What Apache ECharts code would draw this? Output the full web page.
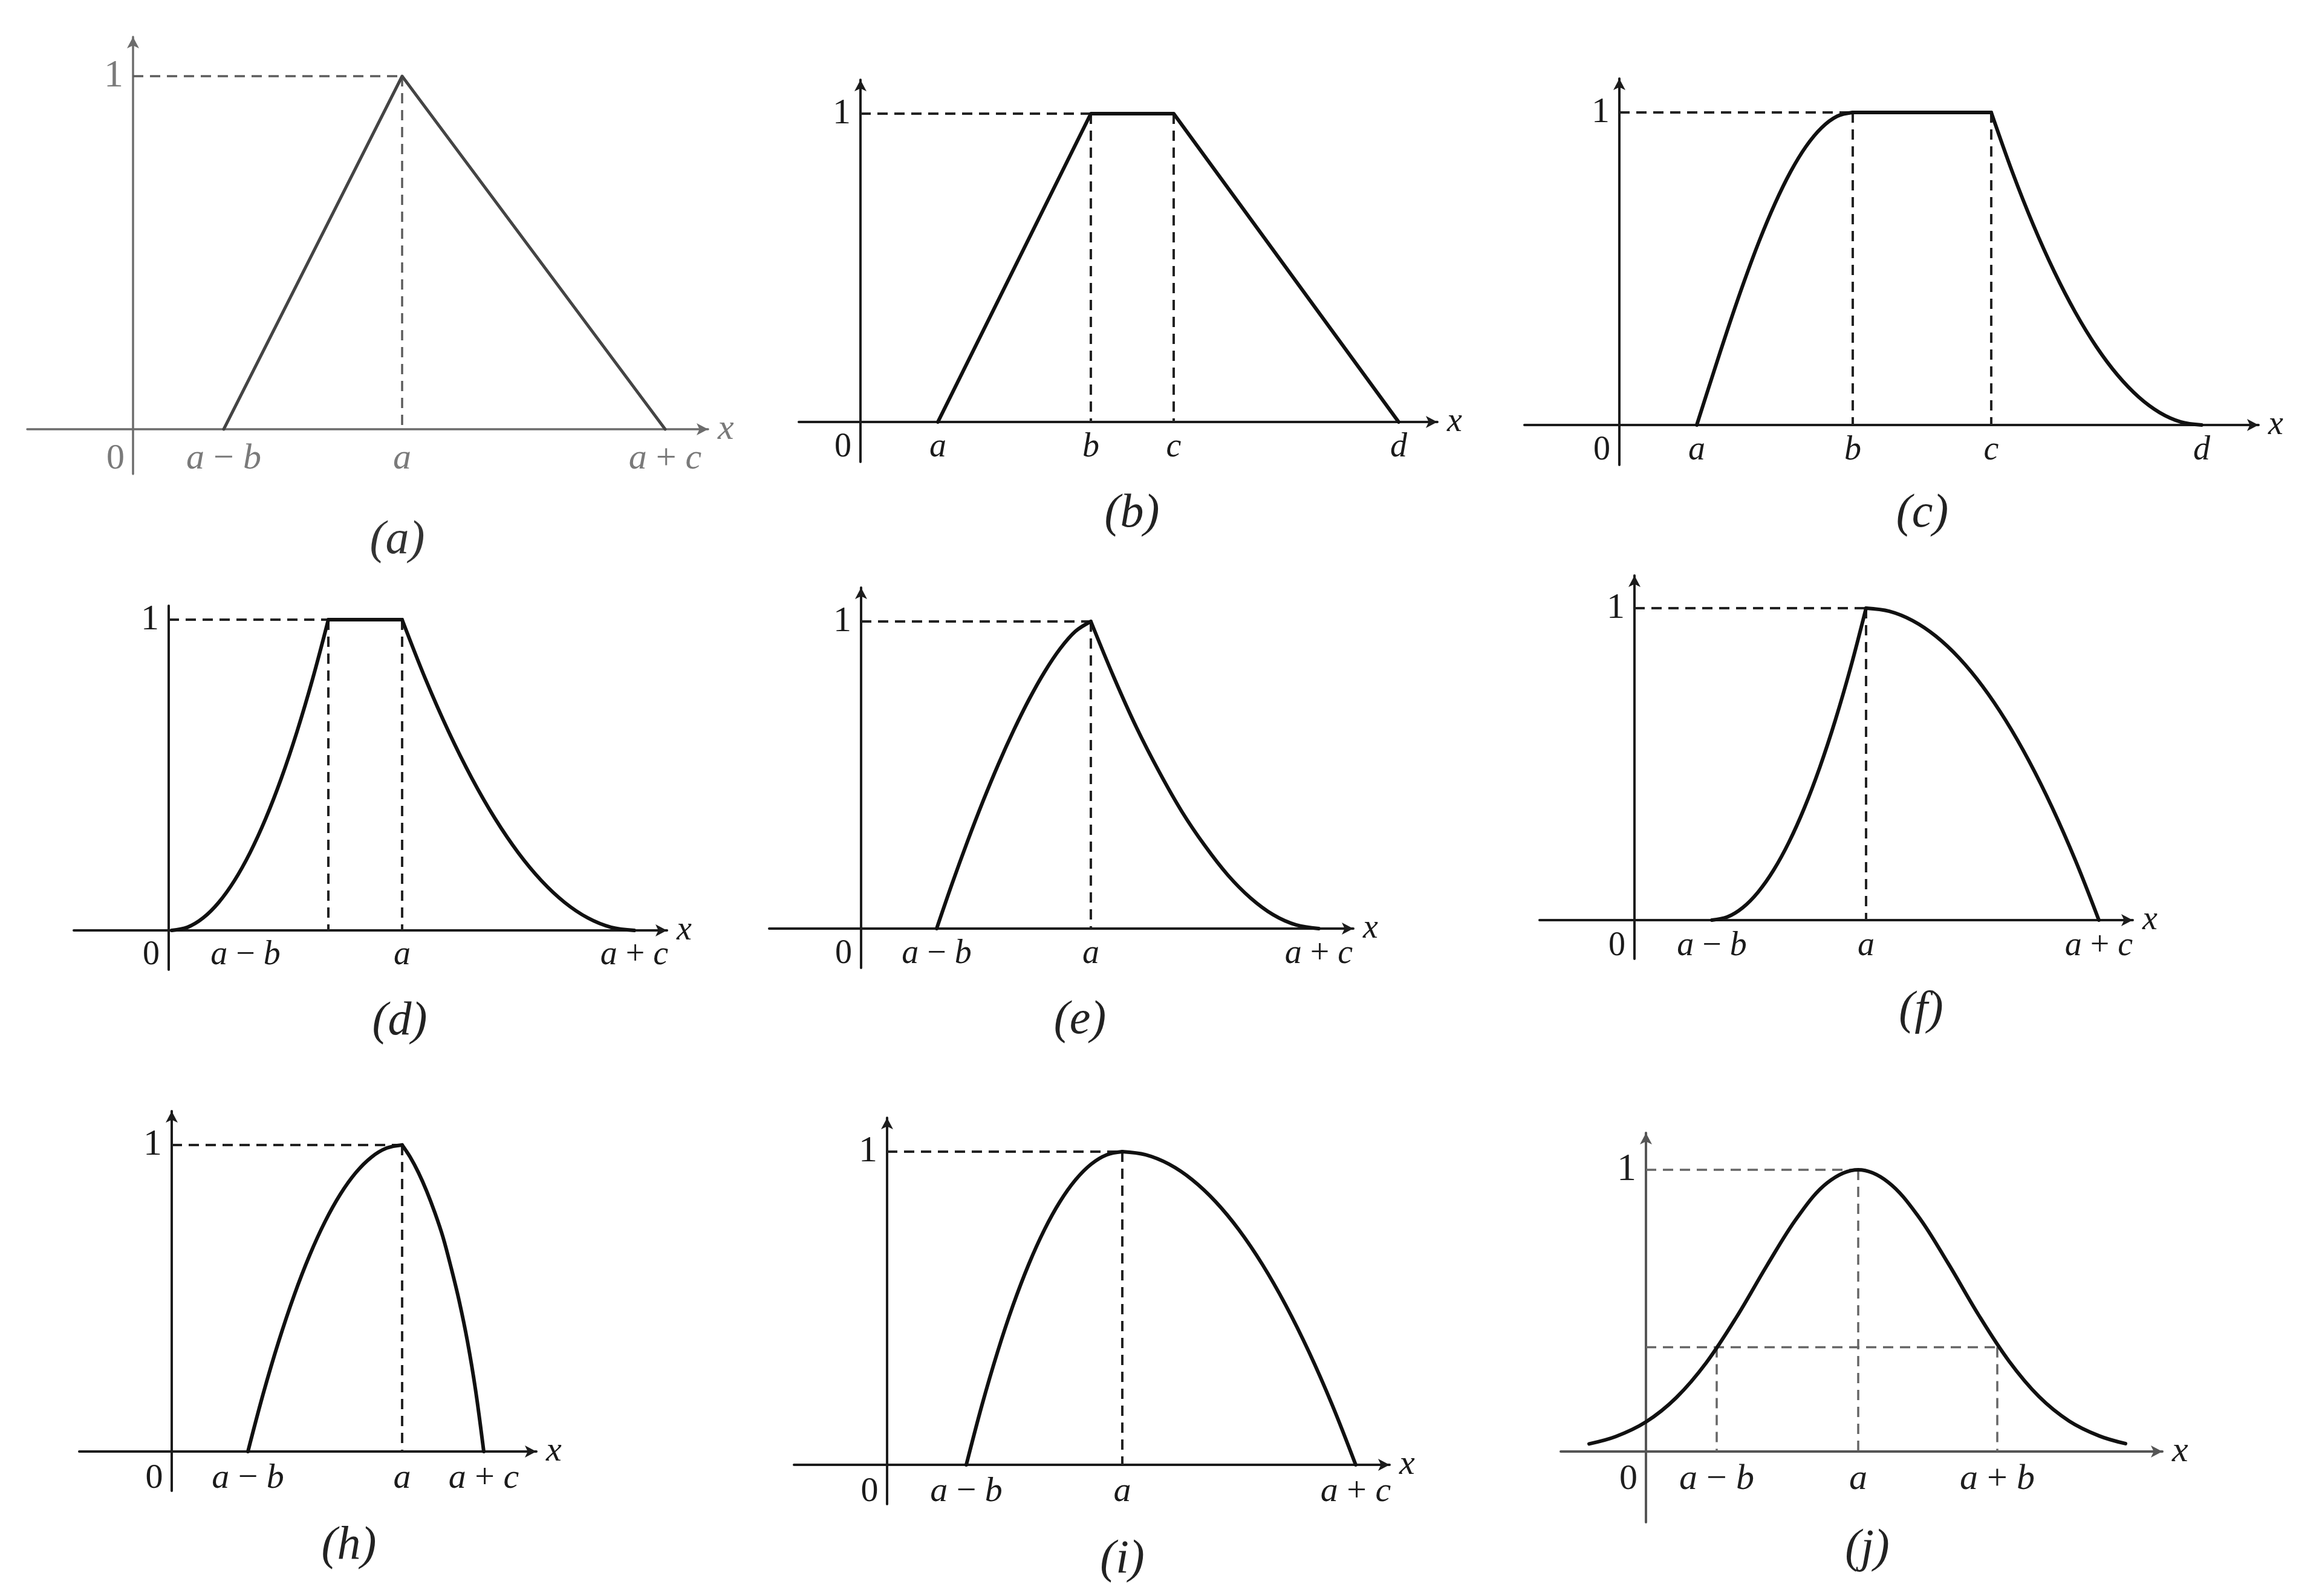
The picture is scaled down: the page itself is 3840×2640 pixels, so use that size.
<!DOCTYPE html>
<html><head><meta charset="utf-8">
<script src="https://cdn.jsdelivr.net/npm/echarts@6/dist/echarts.min.js"></script>
<style>html,body{margin:0;padding:0;background:#fff}#c{width:3840px;height:2640px}</style>
</head><body><div id="c"></div>
<script>
// ---------------- DATA (abstract x units, membership 0..1) ----------------
const ticksA = [0, 1.5, 4.45, 8.8];
const labelsA = ['0', 'a − b', 'a', 'a + c'];
const curveA = [[1.5, 0], [4.45, 1], [8.8, 0]];
const guidesA = [[[0, 1], [4.45, 1]], [[4.45, 1], [4.45, 0]]];

const ticksB = [0, 1.28, 3.81, 5.18, 8.9];
const labelsB = ['0', 'a', 'b', 'c', 'd'];
const curveB = [[1.28, 0], [3.81, 1], [5.18, 1], [8.9, 0]];
const guidesB = [[[0, 1], [3.81, 1]], [[3.81, 1], [3.81, 0]], [[5.18, 1], [5.18, 0]]];

const ticksC = [0, 1.28, 3.86, 6.15, 9.63];
const labelsC = ['0', 'a', 'b', 'c', 'd'];
const riseC = [[1.28, 0], [1.538, 0.156], [1.796, 0.309], [2.054, 0.454], [2.312, 0.588], [2.57, 0.707], [2.828, 0.809], [3.086, 0.891], [3.344, 0.951], [3.602, 0.988], [3.86, 1]];
const flatC = [[3.86, 1], [6.15, 1]];
const fallC = [[6.15, 1], [6.498, 0.81], [6.846, 0.64], [7.194, 0.49], [7.542, 0.36], [7.89, 0.25], [8.238, 0.16], [8.586, 0.09], [8.934, 0.04], [9.282, 0.01], [9.63, 0]];
const guidesC = [[[0, 1], [3.86, 1]], [[3.86, 1], [3.86, 0]], [[6.15, 1], [6.15, 0]]];

const ticksD = [0, 1.27, 3.86, 7.7];
const labelsD = ['0', 'a − b', 'a', 'a + c'];
const riseD = [[0.05, 0], [0.309, 0.01], [0.568, 0.04], [0.827, 0.09], [1.086, 0.16], [1.345, 0.25], [1.604, 0.36], [1.863, 0.49], [2.122, 0.64], [2.381, 0.81], [2.64, 1]];
const flatD = [[2.64, 1], [3.86, 1]];
const fallD = [[3.86, 1], [4.244, 0.81], [4.628, 0.64], [5.012, 0.49], [5.396, 0.36], [5.78, 0.25], [6.164, 0.16], [6.548, 0.09], [6.932, 0.04], [7.316, 0.01], [7.7, 0]];
const guidesD = [[[0, 1], [2.64, 1]], [[2.64, 1], [2.64, 0]], [[3.86, 1], [3.86, 0]]];

const ticksE = [0, 1.25, 3.8, 7.57];
const labelsE = ['0', 'a − b', 'a', 'a + c'];
const riseE = [[1.25, 0], [1.505, 0.146], [1.76, 0.284], [2.015, 0.414], [2.27, 0.535], [2.525, 0.646], [2.78, 0.747], [3.035, 0.836], [3.29, 0.911], [3.545, 0.968], [3.8, 1]];
const fallE = [[3.8, 1], [4.177, 0.82], [4.554, 0.655], [4.931, 0.51], [5.308, 0.38], [5.685, 0.27], [6.062, 0.175], [6.439, 0.1], [6.816, 0.045], [7.193, 0.012], [7.57, 0]];
const guidesE = [[[0, 1], [3.8, 1]], [[3.8, 1], [3.8, 0]]];

const ticksF = [0, 1.28, 3.83, 7.68];
const labelsF = ['0', 'a − b', 'a', 'a + c'];
const riseF = [[1.28, 0], [1.535, 0.01], [1.79, 0.04], [2.045, 0.09], [2.3, 0.16], [2.555, 0.25], [2.81, 0.36], [3.065, 0.49], [3.32, 0.64], [3.575, 0.81], [3.83, 1]];
const fallF = [[3.83, 1], [4.215, 0.99], [4.6, 0.96], [4.985, 0.91], [5.37, 0.84], [5.755, 0.75], [6.14, 0.64], [6.525, 0.51], [6.91, 0.36], [7.295, 0.19], [7.68, 0]];
const guidesF = [[[0, 1], [3.83, 1]], [[3.83, 1], [3.83, 0]]];

const ticksH = [0, 1.26, 3.81, 5.16];
const labelsH = ['0', 'a − b', 'a', 'a + c'];
const riseH = [[1.26, 0], [1.515, 0.19], [1.77, 0.36], [2.025, 0.51], [2.28, 0.64], [2.535, 0.75], [2.79, 0.84], [3.045, 0.91], [3.3, 0.96], [3.555, 0.99], [3.81, 1]];
const fallH = [[3.81, 1], [3.945, 0.96], [4.08, 0.91], [4.215, 0.85], [4.35, 0.78], [4.485, 0.70], [4.62, 0.60], [4.755, 0.49], [4.89, 0.36], [5.025, 0.20], [5.16, 0]];
const guidesH = [[[0, 1], [3.81, 1]], [[3.81, 1], [3.81, 0]]];

const ticksI = [0, 1.31, 3.89, 7.75];
const labelsI = ['0', 'a − b', 'a', 'a + c'];
const riseI = [[1.31, 0], [1.568, 0.19], [1.826, 0.36], [2.084, 0.51], [2.342, 0.64], [2.6, 0.75], [2.858, 0.84], [3.116, 0.91], [3.374, 0.96], [3.632, 0.99], [3.89, 1]];
const fallI = [[3.89, 1], [4.276, 0.99], [4.662, 0.96], [5.048, 0.91], [5.434, 0.84], [5.82, 0.75], [6.206, 0.64], [6.592, 0.51], [6.978, 0.36], [7.364, 0.19], [7.75, 0]];
const guidesI = [[[0, 1], [3.89, 1]], [[3.89, 1], [3.89, 0]]];

const ticksJ = [0, 1.17, 3.51, 5.81];
const labelsJ = ['0', 'a − b', 'a', 'a + b'];
const curveJ = [[-0.94, 0.027], [-0.5, 0.053], [0, 0.105], [0.5, 0.191], [1.0, 0.316], [1.5, 0.478], [2.0, 0.66], [2.5, 0.83], [3.0, 0.954], [3.51, 1], [4.0, 0.957], [4.5, 0.836], [5.0, 0.667], [5.5, 0.485], [6.0, 0.322], [6.5, 0.195], [7.0, 0.108], [7.5, 0.055], [7.93, 0.028]];
const guidesJ = [[[0, 1], [3.51, 1]], [[0, 0.37], [5.81, 0.37]], [[1.17, 0.37], [1.17, 0]], [[3.51, 1], [3.51, 0]], [[5.81, 0.37], [5.81, 0]]];

const yTickValues = [1];
const yTickLabels = ['1'];

// ---------------- PANELS (composition) ----------------
const panels = [
  {id: 'a', caption: '(a)', ticks: ticksA, labels: labelsA, pieces: [[curveA, false]], guides: guidesA},
  {id: 'b', caption: '(b)', ticks: ticksB, labels: labelsB, pieces: [[curveB, false]], guides: guidesB},
  {id: 'c', caption: '(c)', ticks: ticksC, labels: labelsC, pieces: [[riseC, true], [flatC, false], [fallC, true]], guides: guidesC},
  {id: 'd', caption: '(d)', ticks: ticksD, labels: labelsD, pieces: [[riseD, true], [flatD, false], [fallD, true]], guides: guidesD},
  {id: 'e', caption: '(e)', ticks: ticksE, labels: labelsE, pieces: [[riseE, true], [fallE, true]], guides: guidesE},
  {id: 'f', caption: '(f)', ticks: ticksF, labels: labelsF, pieces: [[riseF, true], [fallF, true]], guides: guidesF},
  {id: 'h', caption: '(h)', ticks: ticksH, labels: labelsH, pieces: [[riseH, true], [fallH, true]], guides: guidesH},
  {id: 'i', caption: '(i)', ticks: ticksI, labels: labelsI, pieces: [[riseI, true], [fallI, true]], guides: guidesI},
  {id: 'j', caption: '(j)', ticks: ticksJ, labels: labelsJ, pieces: [[curveJ, true]], guides: guidesJ}
];

// ---------------- LAYOUT & STYLE ----------------
const layout = {
  a: {ox: 220, oy: 710, y1: 126, tailL: 45, tipR: 1180, tipT: 52, tailB: 784, cap: [657, 894], font: 60, dy: 49, yArrow: true},
  b: {ox: 1423, oy: 698, y1: 188, tailL: 1321, tipR: 2386, tipT: 123, tailB: 764, cap: [1872, 850], font: 56, dy: 42, yArrow: true},
  c: {ox: 2678, oy: 703, y1: 186, tailL: 2521, tipR: 3744, tipT: 121, tailB: 769, cap: [3179, 850], font: 56, dy: 42, yArrow: true},
  d: {ox: 279, oy: 1539, y1: 1025, tailL: 122, tipR: 1112, tipT: 1002, tailB: 1604, cap: [661, 1690], font: 56, dy: 41, yArrow: false},
  e: {ox: 1424, oy: 1536, y1: 1028, tailL: 1272, tipR: 2247, tipT: 963, tailB: 1601, cap: [1786, 1688], font: 56, dy: 42, yArrow: true},
  f: {ox: 2703, oy: 1522, y1: 1006, tailL: 2546, tipR: 3536, tipT: 943, tailB: 1586, cap: [3177, 1672], font: 56, dy: 43, yArrow: true},
  h: {ox: 284, oy: 2401, y1: 1894, tailL: 131, tipR: 896, tipT: 1829, tailB: 2466, cap: [577, 2558], font: 58, dy: 45, yArrow: true},
  i: {ox: 1467, oy: 2423, y1: 1905, tailL: 1313, tipR: 2307, tipT: 1840, tailB: 2488, cap: [1856, 2580], font: 58, dy: 45, yArrow: true},
  j: {ox: 2722, oy: 2401, y1: 1935, tailL: 2581, tipR: 3585, tipT: 1865, tailB: 2518, cap: [3088, 2562], font: 60, dy: 46, yArrow: true}
};
const palette = {
  a: {axis: '#6c6c6c', text: '#7a7a7a', curve: '#444444', guide: '#5c5c5c', aw: 3.5, cw: 5, gw: 3.5, cap: '#333333'},
  j: {axis: '#555555', text: '#1e1e1e', curve: '#111111', guide: '#666666', aw: 4, cw: 6, gw: 3.5, cap: '#222222'},
  def: {axis: '#1c1c1c', text: '#1a1a1a', curve: '#111111', guide: '#222222', aw: 4, cw: 6, gw: 4, cap: '#222222'}
};
const SERIF = '"Liberation Serif", "DejaVu Serif", serif';
const SX = 100, ARW = 9;

function labelFormatter(ticks, labels) {
  return function (v) {
    const k = ticks.findIndex(t => Math.abs(t - v) < 1e-6);
    if (k < 0) return '';
    const s = labels[k];
    if (s === '0') return '{z|0}';
    return s.split(' ').map(tok => /[a-z]/.test(tok) ? '{i|' + tok + '}' : '{r|' + tok + '}').join(' ');
  };
}

const grids = [], xAxes = [], yAxes = [], series = [], graphics = [];
panels.forEach((p, idx) => {
  const L = layout[p.id];
  const st = palette[p.id] || palette.def;
  const sy = L.oy - L.y1;
  const yTop = L.yArrow ? L.tipT + ARW : L.tipT;
  const xEnd = L.tipR - ARW;
  grids.push({left: L.tailL, top: yTop, width: xEnd - L.tailL, height: L.tailB - yTop, outerBoundsMode: 'none', containLabel: false});
  const richBase = {fontFamily: SERIF, fontSize: L.font, color: st.text};
  xAxes.push({
    type: 'value', gridIndex: idx,
    min: (L.tailL - L.ox) / SX, max: (xEnd - L.ox) / SX,
    splitLine: {show: false}, axisTick: {show: false},
    axisLine: {onZero: true, symbol: ['none', 'arrow'], symbolSize: [15, 19], lineStyle: {color: st.axis, width: st.aw}},
    axisLabel: {
      customValues: p.ticks, formatter: labelFormatter(p.ticks, p.labels),
      // labels are anchored at the grid's bottom edge; pull them up to sit under the zero line
      margin: (L.oy + L.dy - L.font / 2) - L.tailB,
      color: st.text, fontFamily: SERIF, fontSize: L.font,
      rich: {
        i: Object.assign({fontStyle: 'italic'}, richBase),
        r: Object.assign({fontStyle: 'normal'}, richBase),
        z: Object.assign({fontStyle: 'normal', padding: [0, 58, 0, 0]}, richBase)
      }
    },
    name: 'x', nameLocation: 'end', nameGap: 16,
    nameTextStyle: {fontFamily: SERIF, fontStyle: 'italic', fontSize: L.font, color: st.text, verticalAlign: 'middle'}
  });
  yAxes.push({
    type: 'value', gridIndex: idx,
    min: -(L.tailB - L.oy) / sy, max: (L.oy - yTop) / sy,
    splitLine: {show: false}, axisTick: {show: false},
    axisLine: {onZero: true, symbol: L.yArrow ? ['none', 'arrow'] : ['none', 'none'], symbolSize: [15, 19], lineStyle: {color: st.axis, width: st.aw}},
    axisLabel: {
      customValues: yTickValues,
      formatter: v => { const k = yTickValues.findIndex(t => Math.abs(t - v) < 1e-6); return k < 0 ? '' : yTickLabels[k]; },
      margin: L.tailL - (L.ox - 16),
      color: st.text, fontFamily: SERIF, fontSize: L.font + 4
    }
  });
  p.guides.forEach(g => series.push({
    type: 'line', xAxisIndex: idx, yAxisIndex: idx, data: g, showSymbol: false, silent: true,
    lineStyle: {color: st.guide, width: st.gw, type: [17, 11]}, z: 2
  }));
  p.pieces.forEach(([pts, sm]) => series.push({
    type: 'line', xAxisIndex: idx, yAxisIndex: idx, data: pts, showSymbol: false, silent: true,
    smooth: sm ? 0.35 : false, lineStyle: {color: st.curve, width: st.cw, cap: 'round', join: 'round'}, z: 3
  }));
  graphics.push({
    type: 'text', x: L.cap[0], y: L.cap[1], silent: true,
    style: {text: p.caption, fill: st.cap, font: 'italic 78px ' + SERIF, textAlign: 'center', textVerticalAlign: 'middle', align: 'center', verticalAlign: 'middle'}
  });
});

const chart = echarts.init(document.getElementById('c'), null, {renderer: 'canvas', width: 3840, height: 2640});
chart.setOption({
  backgroundColor: '#ffffff',
  animation: false,
  grid: grids, xAxis: xAxes, yAxis: yAxes, series: series, graphic: graphics
});
</script></body></html>
